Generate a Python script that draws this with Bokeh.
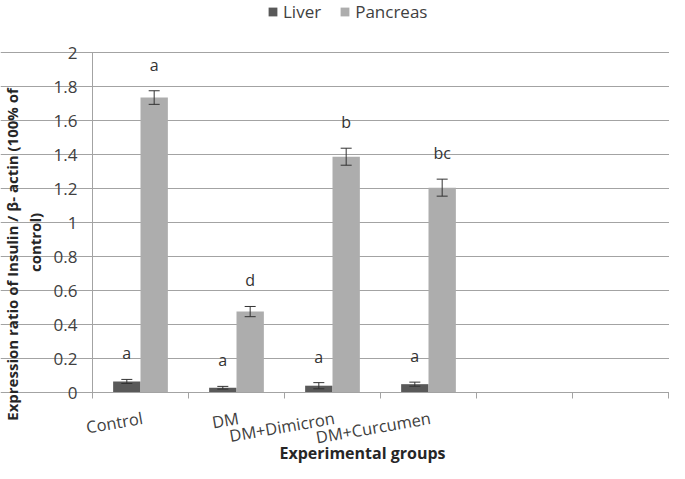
import math
import numpy as np
from bokeh.plotting import figure
from bokeh.models import (FixedTicker, Whisker, TeeHead, ColumnDataSource, Legend,
                          LegendItem, Label, Range1d)
from bokeh.core.properties import value
from bokeh.embed import file_html
from bokeh.resources import INLINE

# ---- data ----
groups = ["Control", "DM", "DM+Dimicron", "DM+Curcumen", " ", "  "]
liver = [0.065, 0.028, 0.040, 0.049]
liver_err = [0.012, 0.008, 0.018, 0.012]
pancreas = [1.735, 0.476, 1.387, 1.205]
pancreas_err = [0.040, 0.030, 0.050, 0.050]
liver_letters = ["a", "a", "a", "a"]
pancreas_letters = ["a", "d", "b", "bc"]
y_ticks = [0, 0.2, 0.4, 0.6, 0.8, 1, 1.2, 1.4, 1.6, 1.8, 2]
y_tick_labels = ["0", "0.2", "0.4", "0.6", "0.8", "1", "1.2", "1.4", "1.6", "1.8", "2"]

FONT = "Open Sans"
GRID = "#a3a3a3"
TXT = "#404040"
TITLE = "#262626"

# ---- layout (pixels inside the figure) ----
W, H = 669, 463
PX_LEFT, PX_RIGHT, PX_TOP, PX_BOTTOM = 92, 668, 52, 392
n_groups = len(groups)
y_max = y_ticks[-1]
sx = (PX_RIGHT - PX_LEFT) / n_groups
sy = (PX_BOTTOM - PX_TOP) / y_max

p = figure(width=W, height=H, output_backend="svg", toolbar_location=None, title=None,
           x_range=Range1d(-PX_LEFT / sx, n_groups + (W - PX_RIGHT) / sx),
           y_range=Range1d(-(H - PX_BOTTOM) / sy, y_max + PX_TOP / sy),
           min_border=0)
p.outline_line_color = None
p.background_fill_color = "white"
p.border_fill_color = "white"

centers = np.arange(n_groups) + 0.5
n = len(liver)
bw = 0.285

def make_src(xs, vals, errs, letters):
    v = np.array(vals)
    e = np.array(errs)
    return ColumnDataSource(dict(x=xs, top=v, upper=v + e, lower=v - e, lab=letters))

src_l = make_src(centers[:n] - bw / 2, liver, liver_err, liver_letters)
src_p = make_src(centers[:n] + bw / 2, pancreas, pancreas_err, pancreas_letters)

r_l = p.vbar(x="x", top="top", width=bw, source=src_l, fill_color="#595959", line_color=None)
r_p = p.vbar(x="x", top="top", width=bw, source=src_p, fill_color="#adadad", line_color=None)

for src in (src_l, src_p):
    w = Whisker(base="x", upper="upper", lower="lower", source=src,
                line_color="#333333", line_width=1,
                upper_head=TeeHead(size=11, line_color="#333333", line_width=1),
                lower_head=TeeHead(size=11, line_color="#333333", line_width=1))
    w.level = "overlay"
    p.add_layout(w)
    p.text(x="x", y="upper", text="lab", source=src, text_align="center",
           text_baseline="middle", y_offset=-26, text_font=value(FONT),
           text_font_size="16px", text_color="#333333")

# y axis (sits at x = 0)
p.yaxis.fixed_location = 0
p.yaxis.bounds = (0, y_max)
p.yaxis.ticker = FixedTicker(ticks=y_ticks)
p.yaxis.major_label_overrides = {t: l for t, l in zip(y_ticks, y_tick_labels)}
p.yaxis.major_label_text_font = FONT
p.yaxis.major_label_text_font_size = "17px"
p.yaxis.major_label_text_color = TXT
p.yaxis.major_label_standoff = 10
p.yaxis.axis_line_color = GRID
p.yaxis.major_tick_line_color = GRID
p.yaxis.major_tick_in = 0
p.yaxis.major_tick_out = 5
p.yaxis.minor_tick_line_color = None
p.ygrid.grid_line_color = GRID
p.ygrid.bounds = (0, n_groups)
p.xgrid.visible = False

# x axis (sits at y = 0); labels end at the group centre, ticks at group boundaries
label_pos = [float(c) + 2 / sx for c in centers]
p.xaxis.fixed_location = 0
p.xaxis.bounds = (0, n_groups)
p.xaxis.ticker = FixedTicker(ticks=label_pos, minor_ticks=list(range(n_groups + 1)))
p.xaxis.major_label_overrides = {c: g.strip() for c, g in zip(label_pos, groups)}
p.xaxis.major_label_orientation = 0.17
p.xaxis.major_label_text_font = FONT
p.xaxis.major_label_text_font_size = "16.5px"
p.xaxis.major_label_text_color = TXT
p.xaxis.major_label_standoff = 19
p.xaxis.axis_line_color = GRID
p.xaxis.major_tick_line_color = None
p.xaxis.major_tick_in = 0
p.xaxis.major_tick_out = 6
p.xaxis.minor_tick_line_color = GRID
p.xaxis.minor_tick_in = 0
p.xaxis.minor_tick_out = 6

# axis titles (screen units, from the frame's bottom-left = figure's bottom-left)
p.add_layout(Label(x=11, y=H - 252, x_units="screen", y_units="screen",
                   text="Expression ratio of Insulin  / β- actin (100% of",
                   angle=math.pi / 2, text_align="center", text_baseline="middle",
                   text_font=FONT, text_font_size="15px", text_font_style="bold",
                   text_color=TITLE))
p.add_layout(Label(x=34, y=H - 242, x_units="screen", y_units="screen",
                   text="control)",
                   angle=math.pi / 2, text_align="center", text_baseline="middle",
                   text_font=FONT, text_font_size="15px", text_font_style="bold",
                   text_color=TITLE))
p.add_layout(Label(x=362, y=H - 452, x_units="screen", y_units="screen",
                   text="Experimental groups", text_align="center", text_baseline="middle",
                   text_font=FONT, text_font_size="16px", text_font_style="bold",
                   text_color=TITLE))

legend = Legend(items=[LegendItem(label="Liver", renderers=[r_l]),
                       LegendItem(label="Pancreas", renderers=[r_p])],
                orientation="horizontal", location=(267, H - 23),
                glyph_width=11, glyph_height=11, label_standoff=5, spacing=18,
                padding=0, margin=0, border_line_color=None, background_fill_alpha=0,
                label_text_font=FONT, label_text_font_size="17px", label_text_color=TXT)
p.add_layout(legend, "center")

open("out.html", "w").write(file_html(p, INLINE))
